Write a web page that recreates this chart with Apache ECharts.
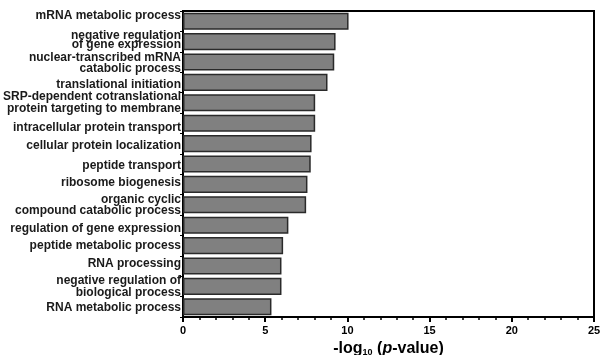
<!DOCTYPE html>
<html><head><meta charset="utf-8">
<script src="https://cdn.jsdelivr.net/npm/echarts@6/dist/echarts.min.js"></script>
<style>html,body{margin:0;padding:0;background:#fff}#c{width:601px;height:355px}</style>
</head><body><div id="c"></div>
<script>
var categories = [
  "mRNA metabolic process",
  "negative regulation\nof gene expression",
  "nuclear-transcribed mRNA\ncatabolic process",
  "translational initiation",
  "SRP-dependent cotranslational\nprotein targeting to membrane",
  "intracellular protein transport",
  "cellular protein localization",
  "peptide transport",
  "ribosome biogenesis",
  "organic cyclic\ncompound catabolic process",
  "regulation of gene expression",
  "peptide metabolic process",
  "RNA processing",
  "negative regulation of\nbiological process",
  "RNA metabolic process"
];
var values = [10.07, 9.28, 9.2, 8.79, 8.04, 8.04, 7.82, 7.77, 7.57, 7.49, 6.41, 6.09, 5.99, 5.99, 5.38];
var xTicks = [0, 5, 10, 15, 20, 25];

// style only: small vertical nudges (px) of the category labels, as in the original figure
var labelNudge = [-5.5, -3, 1.5, 2, 0, 4.5, 2.5, 1.5, -2, 1, 3.5, 0, -2, 1, 1];

var font = '"Liberation Sans", Arial, sans-serif';
var baseLbl = {fontFamily: font, fontWeight: 'bold', fontSize: 12, color: '#1a1a1a', lineHeight: 12.5, align: 'right'};
var rich = {};
labelNudge.forEach(function (s, i) {
  var up = s < 0 ? -2 * s : 0, down = s > 0 ? 2 * s : 0;
  rich['t' + i] = Object.assign({}, baseLbl, {padding: [down, 0, 0, 0]});
  rich['b' + i] = Object.assign({}, baseLbl, {padding: [0, 0, up, 0]});
  rich['s' + i] = Object.assign({}, baseLbl, {padding: [down, 0, up, 0]});
});
function fmt(v, i) {
  var lines = v.split('\n');
  if (lines.length === 1) return '{s' + i + '|' + lines[0] + '}';
  return '{t' + i + '|' + lines[0] + '}\n{b' + i + '|' + lines[1] + '}';
}

var chart = echarts.init(document.getElementById('c'), null, {renderer: 'canvas'});
chart.setOption({
  animation: false,
  grid: {left: 183, right: 7, top: 11, bottom: 38, containLabel: false, outerBoundsMode: 'none',
         show: true, borderColor: '#000', borderWidth: 2, backgroundColor: 'transparent'},
  xAxis: {
    type: 'value', min: xTicks[0], max: xTicks[xTicks.length - 1], interval: 5,
    name: '{a|-log}{s|10}{a| (}{i|p}{a|-value)}',
    nameLocation: 'middle', nameGap: 22,
    nameTextStyle: {rich: {
      a: {fontFamily: font, fontWeight: 'bold', fontSize: 16, color: '#000'},
      i: {fontFamily: font, fontWeight: 'bold', fontStyle: 'italic', fontSize: 16, color: '#000'},
      s: {fontFamily: font, fontWeight: 'bold', fontSize: 9, color: '#000', verticalAlign: 'bottom', padding: [7, 0, 0, 0]}
    }},
    axisLine: {show: true, lineStyle: {color: '#000', width: 2}},
    axisTick: {show: true, length: 5, lineStyle: {color: '#000', width: 2}},
    minorTick: {show: true, splitNumber: 5, length: 3, lineStyle: {color: '#000', width: 1.5}},
    splitLine: {show: false},
    axisLabel: {fontFamily: font, fontWeight: 'bold', fontSize: 11, color: '#000', margin: 8}
  },
  yAxis: {
    type: 'category', data: categories, inverse: true,
    axisLine: {show: true, lineStyle: {color: '#000', width: 2}},
    axisTick: {show: true, length: 3, lineStyle: {color: '#000', width: 1}},
    axisLabel: Object.assign({}, baseLbl, {margin: 2, interval: 0, hideOverlap: false, showMinLabel: true, showMaxLabel: true, formatter: fmt, rich: rich})
  },
  series: [{
    type: 'bar', data: values, barCategoryGap: '16%',
    itemStyle: {color: '#808080', borderColor: '#2a2a2a', borderWidth: 1.5}
  }]
});
</script></body></html>
